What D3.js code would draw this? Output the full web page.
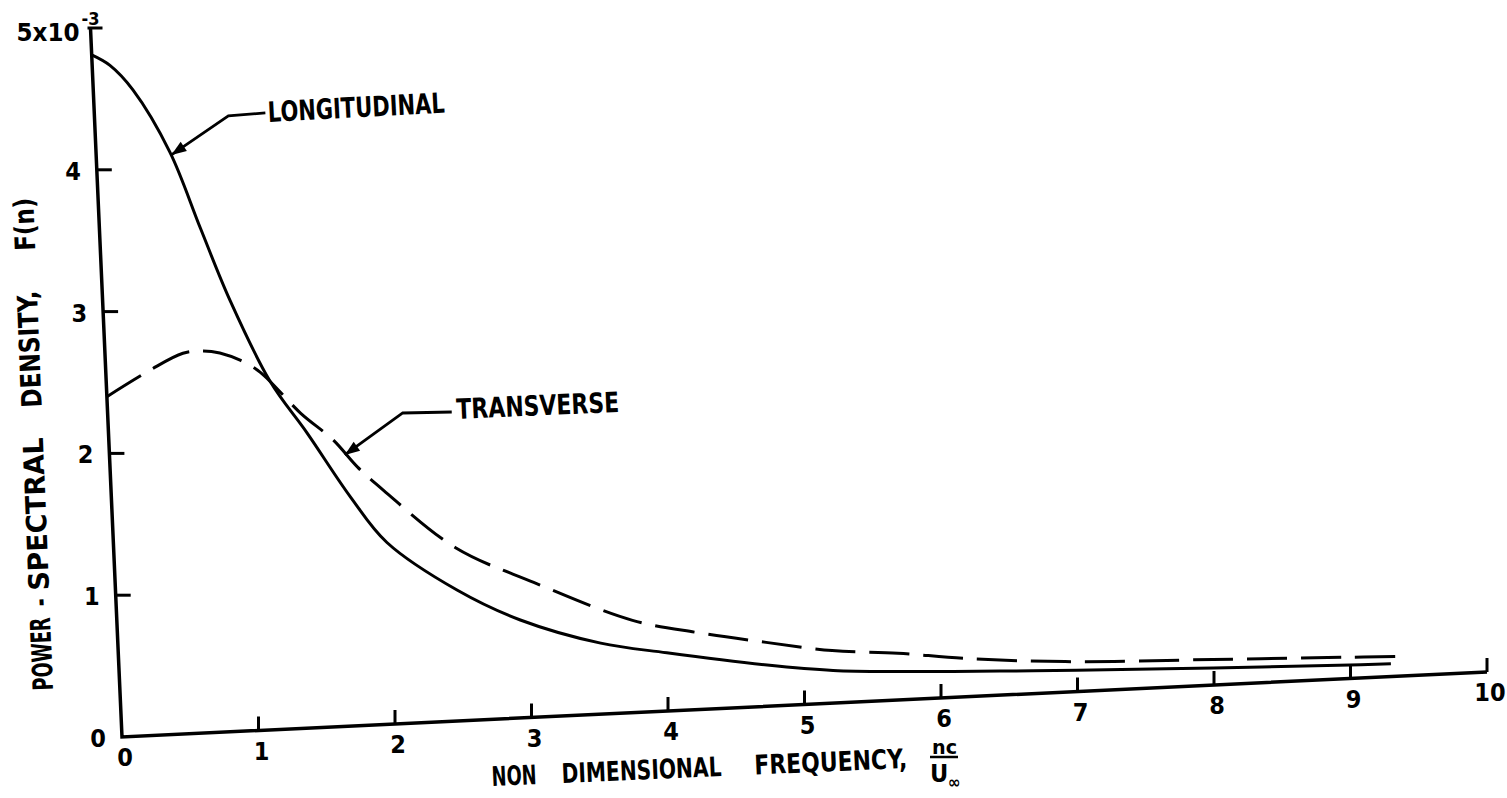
<!DOCTYPE html>
<html><head><meta charset="utf-8">
<script src="https://cdn.jsdelivr.net/npm/d3@7"></script>
<style>
html,body{margin:0;padding:0;background:#fff;}
svg{display:block;background:#fff;}
text{font-family:"Liberation Sans Narrow","DejaVu Sans Condensed","Liberation Sans",Arial,sans-serif;font-weight:bold;fill:#000;}
</style>
</head><body>
<svg id="chart" width="1507" height="798"></svg>
<script>
// ---------- data ----------
const xTickValues = [0,1,2,3,4,5,6,7,8,9,10];
const xTickLabels = ["0","1","2","3","4","5","6","7","8","9","10"];
const yTickValues = [0,1,2,3,4];
const yTickLabels = ["0","1","2","3","4"];
const yTopValue = 5;
const yTopLabel = "5x10";
const yTopExponent = "-3";

const freqLongitudinal = [0,0.13,0.29,0.54,0.74,0.93,1.2,1.45,1.75,2.0,2.5,2.95,3.53,4.01,4.74,5.22,5.71,6.44,7,8,9,9.3];
const longitudinal     = [4.81,4.73,4.55,4.10,3.55,3.04,2.45,2.08,1.61,1.28,0.92,0.69,0.50,0.41,0.29,0.23,0.20,0.17,0.15,0.12,0.095,0.09];

const freqTransverse = [0,0.32,0.57,0.72,0.84,0.99,1.13,1.41,1.64,1.81,1.99,2.5,3.06,3.77,4.25,4.74,5.22,5.70,6.19,7,8,9,9.35];
const transverse     = [2.40,2.57,2.68,2.69,2.67,2.61,2.52,2.22,2.02,1.82,1.65,1.22,0.95,0.65,0.54,0.45,0.37,0.33,0.27,0.21,0.18,0.15,0.14];

const seriesNames = ["LONGITUDINAL","TRANSVERSE"];
const xTitleWords = ["NON","DIMENSIONAL","FREQUENCY,"];
const xTitleFraction = ["nc","U","∞"];
const yTitleWords = ["POWER","-","SPECTRAL","DENSITY,","F(n)"];

// ---------- layout (skewed, hand-drawn axes) ----------
const svg = d3.select("#chart");
const xs    = d3.scaleLinear().domain([0,10]).range([122,1487]);  // horizontal run of x axis
const xRise = d3.scaleLinear().domain([0,10]).range([0,-65]);     // x axis drifts upward
const ys    = d3.scaleLinear().domain([0,5]).range([737,28]);     // vertical run of y axis
const yLean = d3.scaleLinear().domain([0,5]).range([0,-31.5]);    // y axis leans left
const px = (u,v) => xs(u) + yLean(v);
const py = (u,v) => ys(v) + xRise(u);

const ink = "#000";
const g = svg.append("g");

// axes lines
g.append("path")
  .attr("d", d3.line()([[px(0,yTopValue),py(0,yTopValue)],[px(0,0),py(0,0)],[px(10,0),py(10,0)]]))
  .attr("fill","none").attr("stroke",ink).attr("stroke-width",3.5).attr("stroke-linejoin","miter");

// x ticks (vertical, pointing up)
xTickValues.forEach((t,i)=>{
  if (t>0) {
    g.append("line").attr("x1",px(t,0)).attr("y1",py(t,0)).attr("x2",px(t,0)).attr("y2",py(t,0)-14)
      .attr("stroke",ink).attr("stroke-width",3);
  }
  g.append("text").attr("x",px(t,0)+3).attr("y",py(t,0)+29)
    .attr("text-anchor","middle").attr("font-size",25).text(xTickLabels[i]);
});

// y ticks (horizontal, pointing right)
yTickValues.forEach((t,i)=>{
  if (t>0) {
    g.append("line").attr("x1",px(0,t)).attr("y1",py(0,t)).attr("x2",px(0,t)+15).attr("y2",py(0,t))
      .attr("stroke",ink).attr("stroke-width",3);
  }
  g.append("text").attr("x",px(0,t)-16).attr("y",py(0,t)+10)
    .attr("text-anchor","end").attr("font-size",25).text(yTickLabels[i]);
});
// top cap
g.append("line").attr("x1",px(0,yTopValue)-3).attr("y1",py(0,yTopValue)).attr("x2",px(0,yTopValue)+12).attr("y2",py(0,yTopValue))
  .attr("stroke",ink).attr("stroke-width",3);
const topLab = g.append("text").attr("x",px(0,yTopValue)-74).attr("y",py(0,yTopValue)+13).attr("font-size",25);
topLab.append("tspan").text(yTopLabel).attr("textLength",63).attr("lengthAdjust","spacingAndGlyphs");
g.append("text").attr("x",px(0,yTopValue)-9).attr("y",py(0,yTopValue)-3).attr("font-size",18).text(yTopExponent);

// ---------- curves ----------
const line = d3.line().x(d=>px(d[0],d[1])).y(d=>py(d[0],d[1])).curve(d3.curveCatmullRom.alpha(0.5));
const dL = freqLongitudinal.map((f,i)=>[f,longitudinal[i]]);
const dT = freqTransverse.map((f,i)=>[f,transverse[i]]);
g.append("path").attr("d",line(dL)).attr("fill","none").attr("stroke",ink).attr("stroke-width",3);
g.append("path").attr("d",line(dT)).attr("fill","none").attr("stroke",ink).attr("stroke-width",3)
  .attr("stroke-dasharray","40 14");

// ---------- annotations ----------
const annotations = [
  {name:seriesNames[0], at:[0.55,4.08], elbow:[57,-39], end:[94,-42], text:[97,-33], len:177, rot:-3},
  {name:seriesNames[1], at:[1.72,1.91], elbow:[58,-42], end:[107,-43], text:[112,-36], len:163, rot:-2.5}
];
annotations.forEach(a=>{
  const tx = px(a.at[0],a.at[1]), ty = py(a.at[0],a.at[1]);
  const E = [tx+a.elbow[0], ty+a.elbow[1]];
  const S = [tx+a.end[0], ty+a.end[1]];
  g.append("path").attr("d", d3.line()([S,E,[tx,ty]])).attr("fill","none").attr("stroke",ink).attr("stroke-width",2.8);
  const dx = tx-E[0], dy = ty-E[1], L = Math.hypot(dx,dy);
  const ux = dx/L, uy = dy/L, nx = -uy, ny = ux;
  const bx = tx-ux*15, by = ty-uy*15;
  g.append("path").attr("d", d3.line()([[tx,ty],[bx+nx*5.5,by+ny*5.5],[bx-nx*5.5,by-ny*5.5]])+"Z").attr("fill",ink);
  g.append("text").attr("transform",`translate(${tx+a.text[0]},${ty+a.text[1]}) rotate(${a.rot})`)
    .attr("font-size",28).attr("textLength",a.len).attr("lengthAdjust","spacingAndGlyphs").text(a.name);
});

// ---------- axis titles ----------
const xt = g.append("g").attr("transform","translate(492,786) rotate(-2.5)");
const xWordPos = [[0,45],[70,160],[263,153]];
xTitleWords.forEach((w,i)=>{
  xt.append("text").attr("x",xWordPos[i][0]).attr("y",0).attr("font-size",27)
    .attr("textLength",xWordPos[i][1]).attr("lengthAdjust","spacingAndGlyphs").text(w);
});
g.append("text").attr("x",932).attr("y",754).attr("font-size",20).attr("textLength",25).attr("lengthAdjust","spacingAndGlyphs").text(xTitleFraction[0]);
g.append("line").attr("x1",930).attr("x2",958).attr("y1",757).attr("y2",757).attr("stroke",ink).attr("stroke-width",2.5);
g.append("text").attr("x",930).attr("y",782).attr("font-size",25).text(xTitleFraction[1]);
g.append("text").attr("x",948).attr("y",788).attr("font-size",17).text(xTitleFraction[2]);

const yt = g.append("g").attr("transform","translate(53,690) rotate(-92.3)");
const yWordPos = [[0,73],[84,8],[100,153],[283,117],[440,53]];
yTitleWords.forEach((w,i)=>{
  yt.append("text").attr("x",yWordPos[i][0]).attr("y",0).attr("font-size",28)
    .attr("textLength",yWordPos[i][1]).attr("lengthAdjust","spacingAndGlyphs").text(w);
});
</script>
</body></html>
